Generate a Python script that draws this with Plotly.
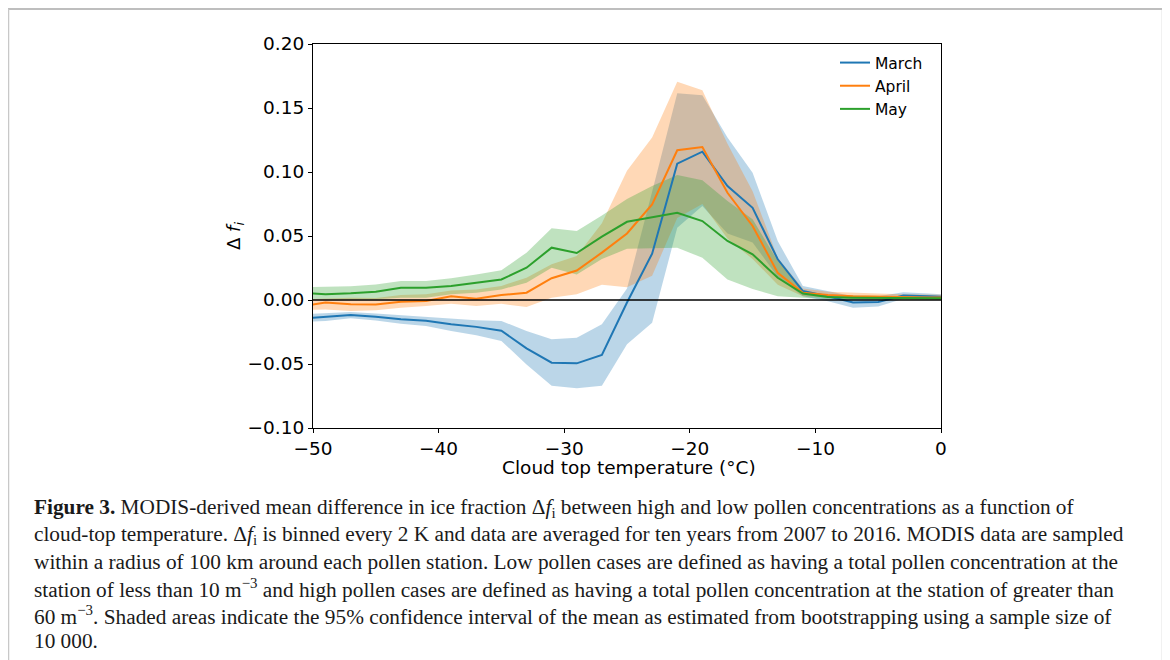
import plotly.graph_objects as go

# ---------------- data ----------------
temps = [-51, -49, -47, -45, -43, -41, -39, -37, -35, -33, -31, -29, -27, -25,
         -23, -21, -19, -17, -15, -13, -11, -9, -7, -5, -3, -1, 1]

march_mean = [-0.0145, -0.0133, -0.0117, -0.0130, -0.0150, -0.0163, -0.0190, -0.0210, -0.0240,
              -0.0378, -0.0490, -0.0495, -0.0430, -0.0020, 0.0362, 0.1065, 0.1159, 0.0890,
              0.0720, 0.0318, 0.0070, 0.0030, -0.0020, -0.0015, 0.0035, 0.0030, 0.0020]
march_upper = [-0.0112, -0.0105, -0.0094, -0.0105, -0.0117, -0.0130, -0.0143, -0.0159, -0.0164,
               -0.0242, -0.0307, -0.0294, -0.0190, 0.0089, 0.0846, 0.1615, 0.1600, 0.1270,
               0.0995, 0.0460, 0.0110, 0.0070, 0.0030, 0.0030, 0.0060, 0.0050, 0.0040]
march_lower = [-0.0170, -0.0164, -0.0143, -0.0160, -0.0185, -0.0203, -0.0242, -0.0276, -0.0320,
               -0.0503, -0.0670, -0.0690, -0.0670, -0.0346, -0.0177, 0.0565, 0.0734, 0.0520,
               0.0450, 0.0180, 0.0030, -0.0010, -0.0060, -0.0050, 0.0010, 0.0010, 0.0000]

april_mean = [-0.0050, -0.0020, -0.0034, -0.0036, -0.0013, -0.0008, 0.0030, 0.0010, 0.0039,
              0.0057, 0.0170, 0.0230, 0.0370, 0.0520, 0.0747, 0.1170, 0.1195, 0.0838,
              0.0578, 0.0213, 0.0057, 0.0040, 0.0030, 0.0025, 0.0020, 0.0020, 0.0020]
april_upper = [0.0005, 0.0012, 0.0018, 0.0015, 0.0039, 0.0044, 0.0075, 0.0083, 0.0110,
               0.0174, 0.0279, 0.0344, 0.0600, 0.1010, 0.1270, 0.1706, 0.1638, 0.1220,
               0.0850, 0.0330, 0.0090, 0.0065, 0.0055, 0.0050, 0.0045, 0.0040, 0.0040]
april_lower = [-0.0078, -0.0075, -0.0086, -0.0080, -0.0060, -0.0047, -0.0030, -0.0047, -0.0030,
               -0.0055, 0.0018, 0.0044, 0.0120, 0.0100, 0.0190, 0.0640, 0.0750, 0.0480,
               0.0320, 0.0120, 0.0030, 0.0020, 0.0010, 0.0005, 0.0000, 0.0000, 0.0000]

may_mean = [0.0058, 0.0044, 0.0052, 0.0065, 0.0096, 0.0096, 0.0110, 0.0135, 0.0160,
            0.0252, 0.0409, 0.0367, 0.0495, 0.0611, 0.0648, 0.0682, 0.0617, 0.0461,
            0.0357, 0.0174, 0.0050, 0.0023, 0.0018, 0.0018, 0.0013, 0.0013, 0.0013]
may_upper = [0.0100, 0.0101, 0.0107, 0.0122, 0.0148, 0.0148, 0.0170, 0.0200, 0.0232,
             0.0370, 0.0560, 0.0540, 0.0660, 0.0790, 0.0890, 0.0977, 0.0935, 0.0773,
             0.0630, 0.0305, 0.0070, 0.0040, 0.0035, 0.0035, 0.0030, 0.0030, 0.0030]
may_lower = [0.0010, 0.0004, 0.0003, 0.0005, 0.0018, 0.0018, 0.0044, 0.0057, 0.0083,
             0.0135, 0.0252, 0.0200, 0.0320, 0.0400, 0.0404, 0.0409, 0.0330, 0.0160,
             0.0085, 0.0030, 0.0018, 0.0005, 0.0003, 0.0003, 0.0000, 0.0000, 0.0000]

months = ["March", "April", "May"]
colors = ["#1f77b4", "#ff7f0e", "#2ca02c"]
fills = ["rgba(31,119,180,0.3)", "rgba(255,127,14,0.3)", "rgba(44,160,44,0.3)"]

x_ticks = [-50, -40, -30, -20, -10, 0]
x_tick_labels = ["−50", "−40", "−30", "−20", "−10", "0"]
y_ticks = [-0.10, -0.05, 0.00, 0.05, 0.10, 0.15, 0.20]
y_tick_labels = ["−0.10", "−0.05", "0.00", "0.05", "0.10", "0.15", "0.20"]

caption_lines = [
    "<b>Figure 3.</b> MODIS-derived mean difference in ice fraction Δ<i>f</i><sub>i</sub> between high and low pollen concentrations as a function of",
    "cloud-top temperature. Δ<i>f</i><sub>i</sub> is binned every 2 K and data are averaged for ten years from 2007 to 2016. MODIS data are sampled",
    "within a radius of 100 km around each pollen station. Low pollen cases are defined as having a total pollen concentration at the",
    "station of less than 10 m<sup>−3</sup> and high pollen cases are defined as having a total pollen concentration at the station of greater than",
    "60 m<sup>−3</sup>. Shaded areas indicate the 95% confidence interval of the mean as estimated from bootstrapping using a sample size of",
    "10 000.",
]

# ---------------- layout geometry (window pixels; page body has an 8px margin) ----------------
OFF = 8
W, H = 1170 - OFF, 660 - OFF
PL, PR, PT, PB = 313 - OFF, 941 - OFF, 44 - OFF, 428 - OFF


def px_x(px):
    return (px - OFF - PL) / (PR - PL)


def px_y(py):
    return (PB - (py - OFF)) / (PB - PT)


fig = go.Figure()

series = [(march_mean, march_upper, march_lower),
          (april_mean, april_upper, april_lower),
          (may_mean, may_upper, may_lower)]

for (m, up, lo), fc in zip(series, fills):
    fig.add_trace(go.Scatter(
        x=temps + temps[::-1], y=up + lo[::-1], fill="toself", fillcolor=fc,
        line=dict(width=0), mode="lines", showlegend=False, hoverinfo="skip"))

for (m, up, lo), name, c in zip(series, months, colors):
    fig.add_trace(go.Scatter(x=temps, y=m, mode="lines", name=name,
                             line=dict(color=c, width=2)))

# zero line
fig.add_trace(go.Scatter(x=[-55, 5], y=[0, 0], mode="lines", showlegend=False,
                         line=dict(color="black", width=1.6), hoverinfo="skip"))

axis_common = dict(showline=True, linecolor="black", linewidth=1, mirror=True,
                   ticks="outside", ticklen=4, tickcolor="black", tickwidth=1,
                   showgrid=False, zeroline=False,
                   tickfont=dict(family="DejaVu Sans", size=18.5, color="black"))

fig.update_xaxes(range=[-50, 0], tickvals=x_ticks, ticktext=x_tick_labels, **axis_common)
fig.update_yaxes(range=[-0.10, 0.20], tickvals=y_ticks, ticktext=y_tick_labels, **axis_common)

annotations = [
    dict(text="Cloud top temperature (°C)", x=px_x(629), y=px_y(467), xref="paper", yref="paper",
         showarrow=False, xanchor="center", yanchor="middle",
         font=dict(family="DejaVu Sans", size=18.5, color="black")),
    dict(text="Δ <i>f<sub>i</sub></i>", x=px_x(235), y=px_y(236), xref="paper", yref="paper",
         showarrow=False, xanchor="center", yanchor="middle", textangle=-90,
         font=dict(family="DejaVu Sans", size=18, color="black")),
]

line_y = [508, 535, 562, 588, 615, 641]
for txt, yy in zip(caption_lines, line_y):
    annotations.append(dict(text=txt, x=px_x(32), y=px_y(yy), xref="paper", yref="paper",
                            showarrow=False, xanchor="left", yanchor="middle", align="left",
                            font=dict(family="Liberation Serif", size=21.3, color="#1a1a1a")))

shapes = [
    dict(type="line", xref="paper", yref="paper", x0=px_x(7), x1=px_x(1164), y0=px_y(9), y1=px_y(9),
         line=dict(color="#a8a8a8", width=1.5)),
    dict(type="line", xref="paper", yref="paper", x0=px_x(8), x1=px_x(8), y0=px_y(9), y1=px_y(670),
         line=dict(color="#c8c8c8", width=2.5)),
    dict(type="line", xref="paper", yref="paper", x0=px_x(1163), x1=px_x(1163), y0=px_y(9), y1=px_y(670),
         line=dict(color="#c8c8c8", width=2.5)),
]

fig.update_layout(
    width=W, height=H,
    margin=dict(l=PL, r=W - PR, t=PT, b=H - PB, autoexpand=False),
    paper_bgcolor="white", plot_bgcolor="white",
    showlegend=True,
    legend=dict(x=px_x(835), y=px_y(46), xanchor="left", yanchor="top",
                bgcolor="rgba(0,0,0,0)", borderwidth=0,
                font=dict(family="DejaVu Sans", size=15.5, color="black"),
                itemwidth=30, tracegroupgap=0),
    annotations=annotations, shapes=shapes,
)

fig.write_html("out.html")
